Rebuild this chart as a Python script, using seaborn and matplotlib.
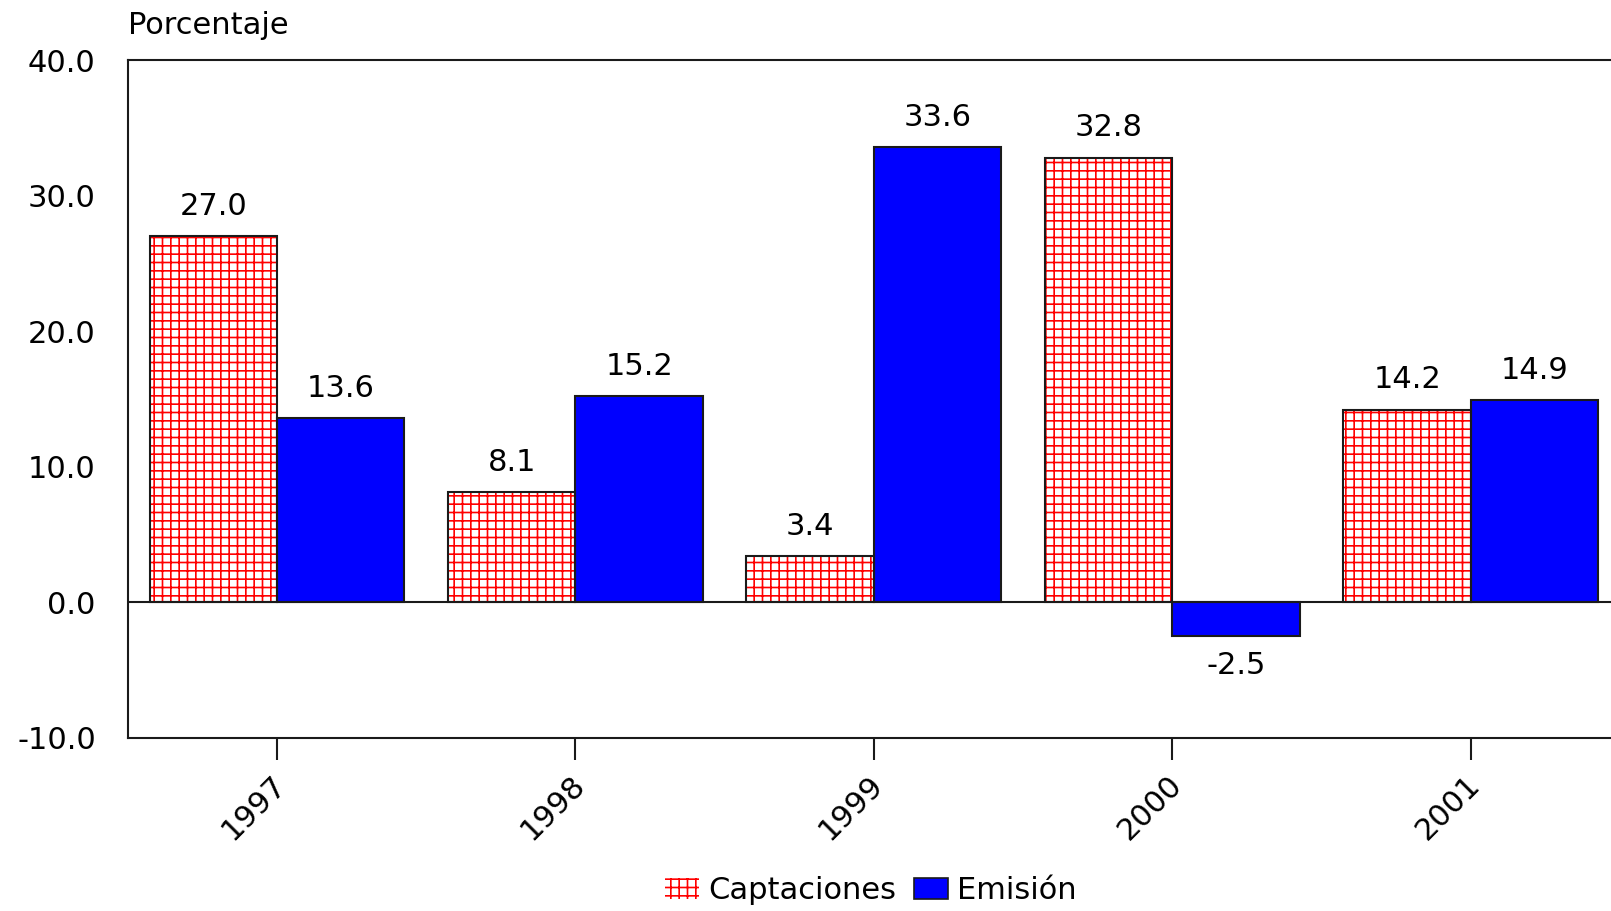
import matplotlib
matplotlib.use("Agg")
import matplotlib.pyplot as plt
import matplotlib.transforms as mtransforms
from matplotlib.patches import Rectangle, Patch
import pandas as pd
import seaborn as sns

# Annual growth of deposits (captaciones) and money issuance (emisión), %
years = ["1997", "1998", "1999", "2000", "2001"]
captaciones = [27.0, 8.1, 3.4, 32.8, 14.2]
emision = [13.6, 15.2, 33.6, -2.5, 14.9]
series_names = ["Captaciones", "Emisión"]
y_ticks = [-10.0, 0.0, 10.0, 20.0, 30.0, 40.0]

df = pd.DataFrame({
    "Año": years * 2,
    "Valor": captaciones + emision,
    "Serie": [series_names[0]] * len(years) + [series_names[1]] * len(years),
})

sns.set_theme(style="white")
plt.rcParams["font.family"] = ["DejaVu Sans"]
plt.rcParams["text.color"] = "black"
plt.rcParams["xtick.color"] = "black"
plt.rcParams["ytick.color"] = "black"
plt.rcParams["hatch.linewidth"] = 1.2

FS = 22

fig = plt.figure(figsize=(16.11, 9.11), dpi=100)
ax = fig.add_axes([0.0793, 0.1902, 0.9263, 0.7439])

sns.barplot(
    data=df, x="Año", y="Valor", hue="Serie",
    palette={"Captaciones": "white", "Emisión": "#0000ff"},
    width=0.854, saturation=1, edgecolor="#1a1a1a", linewidth=1.5,
    legend=False, ax=ax,
)

# Hatched red fill for the deposits series, with a dark outline on top
cap_container, emi_container = ax.containers[0], ax.containers[1]
for bar in cap_container:
    bar.set_hatch("++")
    bar.set_edgecolor("#ff0000")
    bar.set_linewidth(0)
    ax.add_patch(Rectangle(bar.get_xy(), bar.get_width(), bar.get_height(),
                           fill=False, edgecolor="#1a1a1a", linewidth=1.5,
                           zorder=bar.get_zorder() + 0.1))

ax.bar_label(cap_container, labels=[f"{v:.1f}" for v in captaciones],
             padding=11, fontsize=FS, color="black")
ax.bar_label(emi_container, labels=[f"{v:.1f}" for v in emision],
             padding=11, fontsize=FS, color="black")

ax.axhline(0, color="#1a1a1a", linewidth=1.5, zorder=3)

ax.set_xlim(-0.5, len(years) - 0.5)
ax.set_ylim(-10, 40)
ax.set_yticks(y_ticks)
ax.set_yticklabels([f"{t:.1f}" for t in y_ticks])
ax.set_xlabel("")
ax.set_ylabel("")

ax.tick_params(axis="y", length=0, pad=23, labelsize=FS, labelcolor="black")
ax.tick_params(axis="x", bottom=True, length=16, width=1.5, color="#1a1a1a",
               pad=9, labelsize=FS, labelcolor="black")

# Rotated year labels, nudged so their upper end sits just right of the tick
shift = mtransforms.ScaledTranslation(0.15, 0.03, fig.dpi_scale_trans)
for lab in ax.get_xticklabels():
    lab.set_rotation(45)
    lab.set_ha("right")
    lab.set_va("top")
    lab.set_transform(lab.get_transform() + shift)

for spine in ax.spines.values():
    spine.set_visible(True)
    spine.set_color("#1a1a1a")
    spine.set_linewidth(1.5)

fig.text(128 / 1611, 1 - 26 / 911, "Porcentaje", ha="left", va="center",
         fontsize=FS)

handles = [
    Patch(facecolor="white", edgecolor="#ff0000", hatch="++", linewidth=0),
    Patch(facecolor="#0000ff", edgecolor="#1a1a1a", linewidth=1.2),
]
fig.legend(handles, series_names, loc="center", bbox_to_anchor=(0.5407, 0.022),
           ncol=2, frameon=False, fontsize=FS, handlelength=1.1,
           handleheight=0.7, handletextpad=0.3, columnspacing=0.6,
           borderpad=0, borderaxespad=0)

fig.savefig("out.png", dpi=100)
